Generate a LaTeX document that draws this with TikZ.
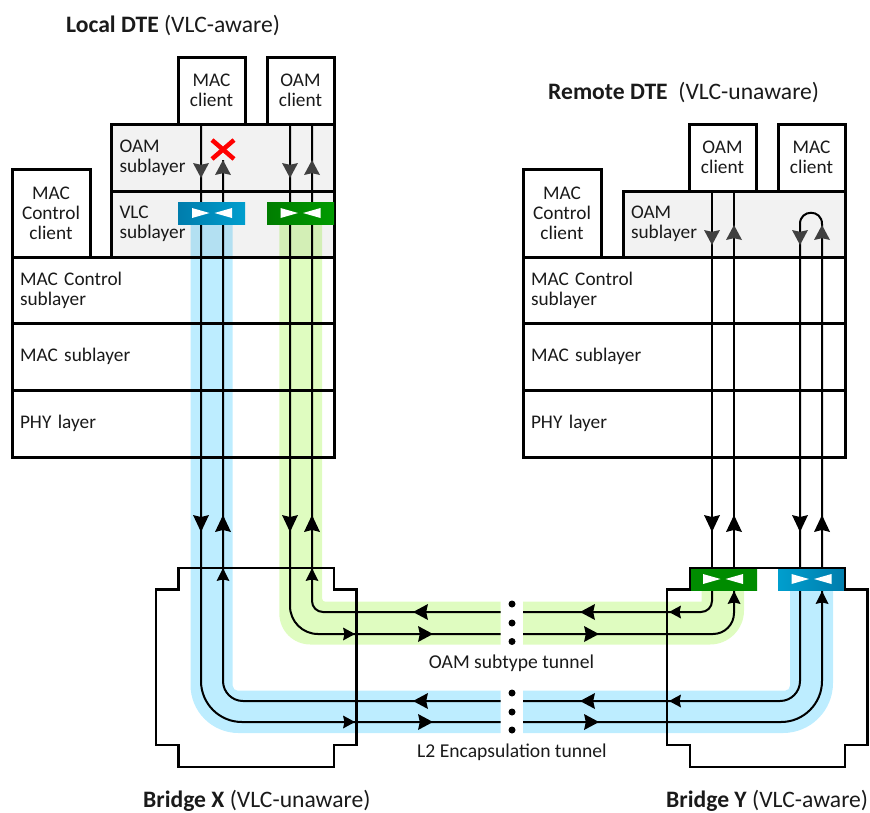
\documentclass[tikz,border=0pt]{standalone}
\usepackage{fontspec}
\setmainfont{Carlito}
\usetikzlibrary{calc}
\definecolor{bandblue}{HTML}{BDEDFF}
\definecolor{bandgreen}{HTML}{DFFCC0}
\definecolor{paneGrey}{HTML}{F2F2F2}
\definecolor{tipGrey}{HTML}{404040}
\definecolor{txt}{HTML}{1A1A1A}
\tikzset{
  boxbase/.style={draw=black,line width=3pt,inner sep=0pt,outer sep=0pt,anchor=north west,text=txt},
  clientbox/.style={boxbase,fill=white,align=center,minimum width=#1,font=\fontsize{19.3}{20}\selectfont},
  layerbox/.style={boxbase,fill=white,align=left,font=\fontsize{19.3}{20}\selectfont},
  panebox/.style={layerbox,fill=paneGrey},
  sw/.style={inner sep=0pt,outer sep=0pt,minimum width=67pt,minimum height=22pt,anchor=north west},
  tun/.style={line width=2pt,draw=black},
  upper/.style={line width=2pt,draw=black},
  title/.style={anchor=west,inner sep=0pt,text=txt,font=\fontsize{23.6}{26}\selectfont},
  tunlabel/.style={inner sep=0pt,text=txt,font=\fontsize{19.6}{22}\selectfont},
  bridge/.style={draw=black,line width=2.8pt,line join=miter},
  band/.style={blend mode=multiply},
}
% arrow tips: x, y of the point, half width, length, colour
\newcommand\tipdown[5]{\fill[#5] (#1,#2) -- ({#1-#3},{#2-#4}) -- (#1,{#2-0.88*#4}) -- ({#1+#3},{#2-#4}) -- cycle;}
\newcommand\tipup[5]{\fill[#5] (#1,#2) -- ({#1-#3},{#2+#4}) -- (#1,{#2+0.88*#4}) -- ({#1+#3},{#2+#4}) -- cycle;}
\newcommand\tipright[5]{\fill[#5] (#1,#2) -- ({#1-#4},{#2-#3}) -- ({#1-0.88*#4},#2) -- ({#1-#4},{#2+#3}) -- cycle;}
\newcommand\tipleft[5]{\fill[#5] (#1,#2) -- ({#1+#4},{#2-#3}) -- ({#1+0.88*#4},#2) -- ({#1+#4},{#2+#3}) -- cycle;}
\newcommand\swmark[2]{\fill[white] ({#1-20},{#2-5}) -- ({#1-2.5},#2) -- ({#1-20},{#2+5}) -- cycle;
  \fill[white] ({#1+20},{#2-5}) -- ({#1+2.5},#2) -- ({#1+20},{#2+5}) -- cycle;}
\begin{document}
\begin{tikzpicture}[x=1pt,y=-1pt]
\useasboundingbox (0,0) rectangle (870,812);
% ---- left stack
\node[clientbox=67pt,minimum height=67pt] (lmac) at (178,57) {MAC\\client};
\node[clientbox=67pt,minimum height=67pt] (loam) at (267,57) {OAM\\client};
\node[panebox,minimum width=223pt,minimum height=67pt,text width=207pt] (loamsub) at (111.5,124) {OAM\\sublayer};
\node[panebox,minimum width=223pt,minimum height=66pt,text width=207pt] (lvlc) at (111.5,191) {VLC\\sublayer};
\node[clientbox=78pt,minimum height=88pt] (lctl) at (12,169) {MAC\\Control\\client};
\node[layerbox,minimum width=322pt,minimum height=66pt,text width=306pt] (lctlsub) at (12,257) {MAC Control\\sublayer};
\node[layerbox,minimum width=322pt,minimum height=67pt,text width=306pt] (lmacsub) at (12,323) {MAC sublayer};
\node[layerbox,minimum width=322pt,minimum height=67pt,text width=306pt] (lphy) at (12,390) {PHY layer};
% ---- right stack
\node[clientbox=67pt,minimum height=67pt] (roam) at (689,124) {OAM\\client};
\node[clientbox=67pt,minimum height=67pt] (rmac) at (778,124) {MAC\\client};
\node[panebox,minimum width=222pt,minimum height=66pt,text width=206pt] (roamsub) at (623,191) {OAM\\sublayer};
\node[clientbox=78pt,minimum height=88pt] (rctl) at (523,169) {MAC\\Control\\client};
\node[layerbox,minimum width=322pt,minimum height=66pt,text width=306pt] (rctlsub) at (523,257) {MAC Control\\sublayer};
\node[layerbox,minimum width=322pt,minimum height=67pt,text width=306pt] (rmacsub) at (523,323) {MAC sublayer};
\node[layerbox,minimum width=322pt,minimum height=67pt,text width=306pt] (rphy) at (523,390) {PHY layer};
% ---- tunnel bands
\fill[bandgreen,band] (279.3,224) [rounded corners=31pt] -- (279.3,644.5) [sharp corners] -- (500.5,644.5) -- (500.5,601.7) [rounded corners=3pt] -- (322.2,601.7) [sharp corners] -- (322.2,224) -- cycle;
\fill[bandgreen,band] (523,601.7) -- (701.7,601.7) [sharp corners] -- (701.7,590) -- (744,590) [rounded corners=34pt] -- (744,644.5) [sharp corners] -- (523,644.5) -- cycle;
\fill[bandblue,band] (190.5,224) [rounded corners=48pt] -- (190.5,733) [sharp corners] -- (500.5,733) -- (500.5,690.7) [rounded corners=5pt] -- (232.7,690.7) [sharp corners] -- (232.7,224) -- cycle;
\fill[bandblue,band] (523,690.7) [rounded corners=5pt] -- (790,690.7) [sharp corners] -- (790,590) -- (833,590) [rounded corners=50pt] -- (833,733) [sharp corners] -- (523,733) -- cycle;
% ---- lane end points
\coordinate (gapL1) at (500.5,612);
\coordinate (gapL2) at (500.5,634);
\coordinate (gapL3) at (500.5,701);
\coordinate (gapL4) at (500.5,722);
\coordinate (gapR1) at (523,612);
\coordinate (gapR2) at (523,634);
\coordinate (gapR3) at (523,701);
\coordinate (gapR4) at (523,722);
\coordinate (lmacA) at (201,124);
\coordinate (lswB) at (223,160);
\coordinate (loamA) at (290,124);
\coordinate (loamB) at (312,124);
\coordinate (rswGa) at (712,590);
\coordinate (rswGb) at (734,590);
\coordinate (rswBa) at (800,590);
\coordinate (rswBb) at (822,590);
% ---- connectors
\draw[tun,rounded corners=28pt] (loamA) |- (gapL2);
\draw[tun,rounded corners=11pt] (loamB) |- (gapL1);
\draw[tun,rounded corners=41pt] (lmacA) |- (gapL4);
\draw[tun,rounded corners=20pt] (lswB) |- (gapL3);
\draw[tun,rounded corners=11pt] (gapR1) -| (rswGa);
\draw[tun,rounded corners=21pt] (gapR2) -| (rswGb);
\draw[tun,rounded corners=20pt] (gapR3) -| (rswBa);
\draw[tun,rounded corners=41pt] (gapR4) -| (rswBb);
\coordinate (roamA) at (712,191);
\coordinate (roamB) at (734,191);
\coordinate (rswTa) at (712,568);
\coordinate (rswTb) at (734,568);
\coordinate (loopa) at (800,568);
\coordinate (loopb) at (822,568);
\coordinate (looptopa) at (800,224);
\coordinate (looptopb) at (822,224);
\draw[upper] (roamA) -- (rswTa);
\draw[upper] (roamB) -- (rswTb);
\draw[upper] (loopa) -- (looptopa) .. controls (800,209) and (822,209) .. (looptopb) -- (loopb);
% ---- switches
\node[sw,left color={rgb,255:red,0;green,125;blue,172},right color={rgb,255:red,0;green,158;blue,206}] (lsb) at (178,202) {};
\node[sw,left color={rgb,255:red,0;green,125;blue,0},right color={rgb,255:red,0;green,155;blue,0}] (lsg) at (267,202) {};
\node[sw,left color={rgb,255:red,0;green,140;blue,0},right color={rgb,255:red,0;green,140;blue,0}] (rsg) at (690,568) {};
\node[sw,left color={rgb,255:red,0;green,158;blue,206},right color={rgb,255:red,0;green,125;blue,172}] (rsb) at (778,568) {};
\swmark{212}{213}
\swmark{300.5}{213}
\swmark{723}{579}
\swmark{811.5}{579}
% ---- arrow tips
\tipdown{201}{178}{8}{15}{tipGrey}
\tipup{223}{160}{8}{15}{tipGrey}
\tipdown{290}{178}{8}{15}{tipGrey}
\tipup{312}{160}{8}{15}{tipGrey}
\tipdown{712}{245}{8}{15}{tipGrey}
\tipup{734}{225}{8}{15}{tipGrey}
\tipdown{800}{245}{8}{15}{tipGrey}
\tipup{822}{225}{8}{15}{tipGrey}
\foreach \xa/\xb in {201/223,290/312,712/734,800/822}{
  \tipdown{\xa}{532}{8}{17}{black}
  \tipup{\xb}{515}{8}{17}{black}
}
\tipup{223}{568}{6.5}{13}{black}
\tipup{312}{568}{6.5}{13}{black}
\tipup{734}{591}{6.5}{13}{black}
\tipup{822}{591}{6.5}{13}{black}
\foreach \yy in {634,722}{
  \tipright{355}{\yy}{6.5}{12}{black}
  \tipright{433}{\yy}{8}{15}{black}
  \tipright{599}{\yy}{8}{15}{black}
}
\foreach \yy in {612,701}{
  \tipleft{669}{\yy}{6.5}{12}{black}
  \tipleft{413}{\yy}{8}{15}{black}
  \tipleft{580}{\yy}{8}{15}{black}
}
% ---- blocked path mark
\draw[red,line width=4.5pt] (212,140) -- (234,159) (234,140) -- (212,159);
% ---- bridges
\draw[bridge] (178.5,568) -- (334,568) -- (334,589.5) -- (356.7,589.5) -- (356.7,745) -- (334,745) -- (334,767) -- (178.5,767) -- (178.5,745) -- (156,745) -- (156,589.5) -- (178.5,589.5) -- cycle;
\draw[bridge] (690,568) -- (845,568) -- (845,589.5) -- (867.5,589.5) -- (867.5,745) -- (845,745) -- (845,767) -- (690,767) -- (690,745) -- (667,745) -- (667,589.5) -- (690,589.5) -- cycle;
% ---- gap dots
\foreach \yy in {604,623,641.5,693,712,730}{\fill (512,\yy) circle[radius=3.5pt];}
% ---- labels
\node[title] (tlocal) at (66,26) {\textbf{Local DTE} (VLC-aware)};
\node[title] (tremote) at (548,93) {\textbf{Remote DTE}\ \ (VLC-unaware)};
\node[title] (tbx) at (143,800.5) {\textbf{Bridge X} (VLC-unaware)};
\node[title] (tby) at (666,800.5) {\textbf{Bridge Y} (VLC-aware)};
\node[tunlabel] (toam) at (511.5,663.5) {OAM subtype tunnel};
\node[tunlabel] (tl2) at (512,752) {L2 Encapsulation tunnel};
\end{tikzpicture}
\end{document}
